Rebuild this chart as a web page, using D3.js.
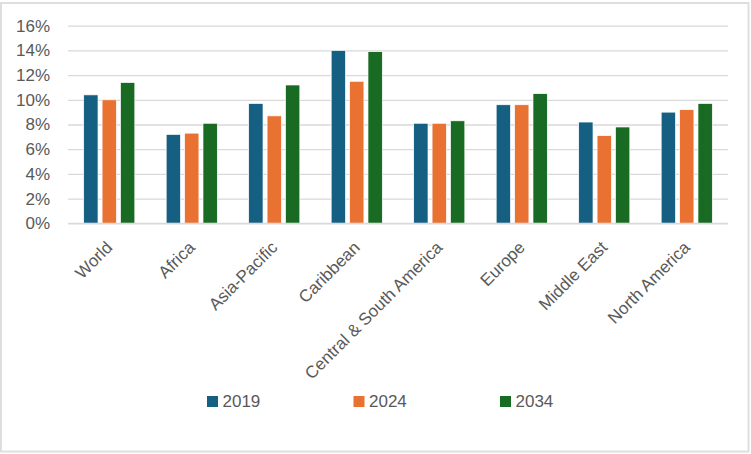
<!DOCTYPE html>
<html>
<head>
<meta charset="utf-8">
<script src="https://cdn.jsdelivr.net/npm/d3@7"></script>
<style>
  html, body { margin: 0; padding: 0; background: #fff; }
  svg { display: block; font-family: "Liberation Sans", Arial, sans-serif; }
</style>
</head>
<body>
<div id="wrapper"></div>
<script>
// data (share, %)
const regions = ["World", "Africa", "Asia-Pacific", "Caribbean", "Central & South America", "Europe", "Middle East", "North America"];
const years = ["2019", "2024", "2034"];
const values2019 = [10.4, 7.2, 9.7, 14.0, 8.1, 9.6, 8.2, 9.0];
const values2024 = [10.0, 7.3, 8.7, 11.5, 8.1, 9.6, 7.1, 9.2];
const values2034 = [11.4, 8.1, 11.2, 13.9, 8.3, 10.5, 7.8, 9.7];
const yTicks = [0, 2, 4, 6, 8, 10, 12, 14, 16];
const colors = ["#156082", "#e97132", "#196b24"];

function drawBars() {
    const seriesValues = [values2019, values2024, values2034];
    const dataset = regions.map((r, i) => ({
        region: r,
        values: years.map((y, j) => ({ year: y, value: seriesValues[j][i] }))
    }));

    const dimensions = {
        width: 751,
        height: 454,
        margin: { top: 25.7, right: 23, bottom: 230.7, left: 68 }
    };
    dimensions.boundedWidth = dimensions.width - dimensions.margin.left - dimensions.margin.right;
    dimensions.boundedHeight = dimensions.height - dimensions.margin.top - dimensions.margin.bottom;

    const wrapper = d3.select("#wrapper")
        .append("svg")
        .attr("width", dimensions.width)
        .attr("height", dimensions.height);

    // outer frame
    wrapper.append("rect")
        .attr("x", 1)
        .attr("y", 3)
        .attr("width", 747.5)
        .attr("height", 448.5)
        .attr("fill", "none")
        .attr("stroke", "#dedede")
        .attr("stroke-width", 2);

    const bounds = wrapper.append("g")
        .attr("transform", `translate(${dimensions.margin.left}, ${dimensions.margin.top})`);

    // scales
    const xScale = d3.scaleBand()
        .domain(regions)
        .range([0, dimensions.boundedWidth])
        .paddingInner(0.38)
        .paddingOuter(0.19);

    const xInner = d3.scaleBand()
        .domain(years)
        .range([0, xScale.bandwidth()])
        .paddingInner(0.22);

    const yScale = d3.scaleLinear()
        .domain([0, 16])
        .range([dimensions.boundedHeight, 0]);

    const colorScale = d3.scaleOrdinal()
        .domain(years)
        .range(colors);

    // gridlines + y labels
    const yAxisGenerator = d3.axisLeft(yScale)
        .tickValues(yTicks)
        .tickSize(-dimensions.boundedWidth)
        .tickPadding(18)
        .tickFormat(d => d + "%");

    const yAxis = bounds.append("g").call(yAxisGenerator);
    yAxis.select(".domain").remove();
    yAxis.selectAll(".tick line")
        .attr("stroke", "#d9d9d9")
        .attr("stroke-width", 1.3);
    yAxis.selectAll(".tick text")
        .attr("fill", "#595959")
        .style("font-size", "17px");

    // bars
    const groups = bounds.selectAll(".group")
        .data(dataset)
        .enter().append("g")
        .attr("class", "group")
        .attr("transform", d => `translate(${xScale(d.region)}, 0)`);

    groups.selectAll("rect")
        .data(d => d.values)
        .enter().append("rect")
        .attr("x", d => xInner(d.year))
        .attr("y", d => yScale(d.value))
        .attr("width", xInner.bandwidth())
        .attr("height", d => dimensions.boundedHeight - yScale(d.value))
        .attr("fill", d => colorScale(d.year))
        .attr("stroke", "#ffffff")
        .attr("stroke-width", 0.7);

    // x axis line
    bounds.append("line")
        .attr("x1", 0)
        .attr("x2", dimensions.boundedWidth)
        .attr("y1", dimensions.boundedHeight)
        .attr("y2", dimensions.boundedHeight)
        .attr("stroke", "#d9d9d9")
        .attr("stroke-width", 1.3);

    // rotated category labels
    bounds.selectAll(".xlabel")
        .data(regions)
        .enter().append("text")
        .attr("class", "xlabel")
        .attr("transform", d => `translate(${xScale(d) + xScale.bandwidth() / 2}, ${dimensions.boundedHeight + 21}) rotate(-45)`)
        .attr("text-anchor", "end")
        .attr("dy", "0.35em")
        .attr("fill", "#595959")
        .style("font-size", "17px")
        .text(d => d);

    // legend
    const legend = wrapper.append("g")
        .attr("transform", "translate(207, 396)");

    const items = legend.selectAll("g")
        .data(years)
        .enter().append("g")
        .attr("transform", (d, i) => `translate(${i * 146.5}, 0)`);

    items.append("rect")
        .attr("width", 11)
        .attr("height", 11)
        .attr("fill", d => colorScale(d));

    items.append("text")
        .attr("x", 15.5)
        .attr("y", 5.5)
        .attr("dy", "0.35em")
        .attr("fill", "#595959")
        .style("font-size", "17px")
        .text(d => d);
}

drawBars();
</script>
</body>
</html>
